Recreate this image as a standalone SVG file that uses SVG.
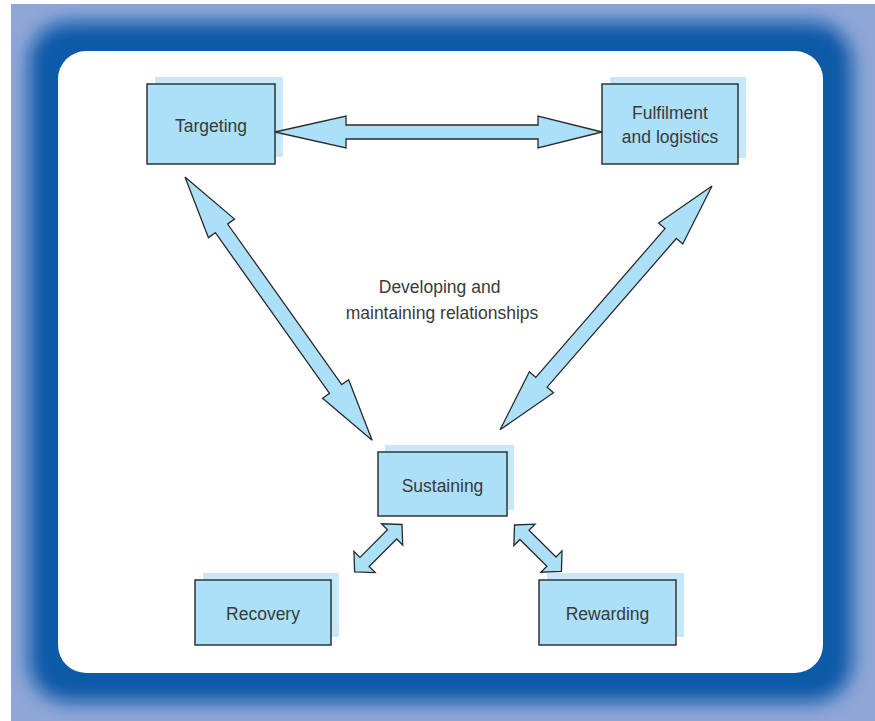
<svg xmlns="http://www.w3.org/2000/svg" width="875" height="721" viewBox="0 0 875 721">
  <defs>
    <style>
      .shadow { fill: #c6e9f9; }
      .box { fill: #abe0f8; stroke: #333333; stroke-width: 1.5; }
      .arrow { fill: #abe0f8; stroke: #2a2a2a; stroke-width: 1.3; stroke-linejoin: miter; }
      .lbl { font-family: "Liberation Sans", Arial, sans-serif; font-size: 17.5px; fill: #3a3a3a; text-anchor: middle; }
    </style>
    <filter id="blur" x="-10%" y="-10%" width="120%" height="120%">
      <feGaussianBlur stdDeviation="9"/>
    </filter>
    <clipPath id="frameClip">
      <rect x="11" y="4" width="864" height="717"/>
    </clipPath>
  </defs>

  <!-- frame -->
  <g id="frame">
    <rect x="11" y="4" width="864" height="717" fill="#8fa6d7"/>
    <g clip-path="url(#frameClip)">
      <rect x="29" y="22" width="823" height="680" rx="40" fill="#0b5aa8" filter="url(#blur)"/>
    </g>
    <rect x="58" y="51" width="765" height="622" rx="28" fill="#ffffff"/>
  </g>

  <text id="center-label" class="lbl">
    <tspan x="442" y="293">Developing and</tspan>
    <tspan x="442" y="318.5">maintaining relationships</tspan>
  </text>

  <g id="targeting">
    <rect class="shadow" x="155" y="77" width="128" height="80"/>
    <rect class="box" x="147" y="84" width="128" height="80"/>
    <text class="lbl" x="211" y="132">Targeting</text>
  </g>

  <g id="fulfilment">
    <rect class="shadow" x="610" y="77" width="136" height="81"/>
    <rect class="box" x="602" y="84" width="136" height="80"/>
    <text class="lbl"><tspan x="670" y="119">Fulfilment</tspan><tspan x="670" y="143">and logistics</tspan></text>
  </g>

  <g id="sustaining">
    <rect class="shadow" x="385" y="445" width="129" height="65"/>
    <rect class="box" x="378" y="452" width="129" height="64"/>
    <text class="lbl" x="442.5" y="492">Sustaining</text>
  </g>

  <g id="recovery">
    <rect class="shadow" x="203" y="573" width="136" height="64"/>
    <rect class="box" x="195" y="580" width="136" height="65"/>
    <text class="lbl" x="263" y="620">Recovery</text>
  </g>

  <g id="rewarding">
    <rect class="shadow" x="547" y="573" width="137" height="64"/>
    <rect class="box" x="539" y="580" width="137" height="65"/>
    <text class="lbl" x="607.5" y="620">Rewarding</text>
  </g>

  <!-- connectors -->
  <g id="connectors">
    <polygon class="arrow" points="275,132 346,116 346,125 538,125 538,116 602,132 538,148 538,139 346,139 346,148"/>
    <polygon class="arrow" transform="translate(185,177) rotate(54.6)" points="0,0 63,-16 63,-7.5 260,-7.5 260,-16 323,0 260,16 260,7.5 63,7.5 63,16"/>
    <polygon class="arrow" transform="translate(712,186) rotate(131)" points="0,0 63,-16 63,-7.5 260,-7.5 260,-16 323,0 260,16 260,7.5 63,7.5 63,16"/>
    <polygon class="arrow" transform="translate(402,524.5) rotate(135)" points="0,0 14,-15 14,-6.5 53,-6.5 53,-15 67,0 53,15 53,6.5 14,6.5 14,15"/>
    <polygon class="arrow" transform="translate(514.5,525) rotate(44.7)" points="0,0 14,-15 14,-6.5 52,-6.5 52,-15 66,0 52,15 52,6.5 14,6.5 14,15"/>
  </g>
</svg>
